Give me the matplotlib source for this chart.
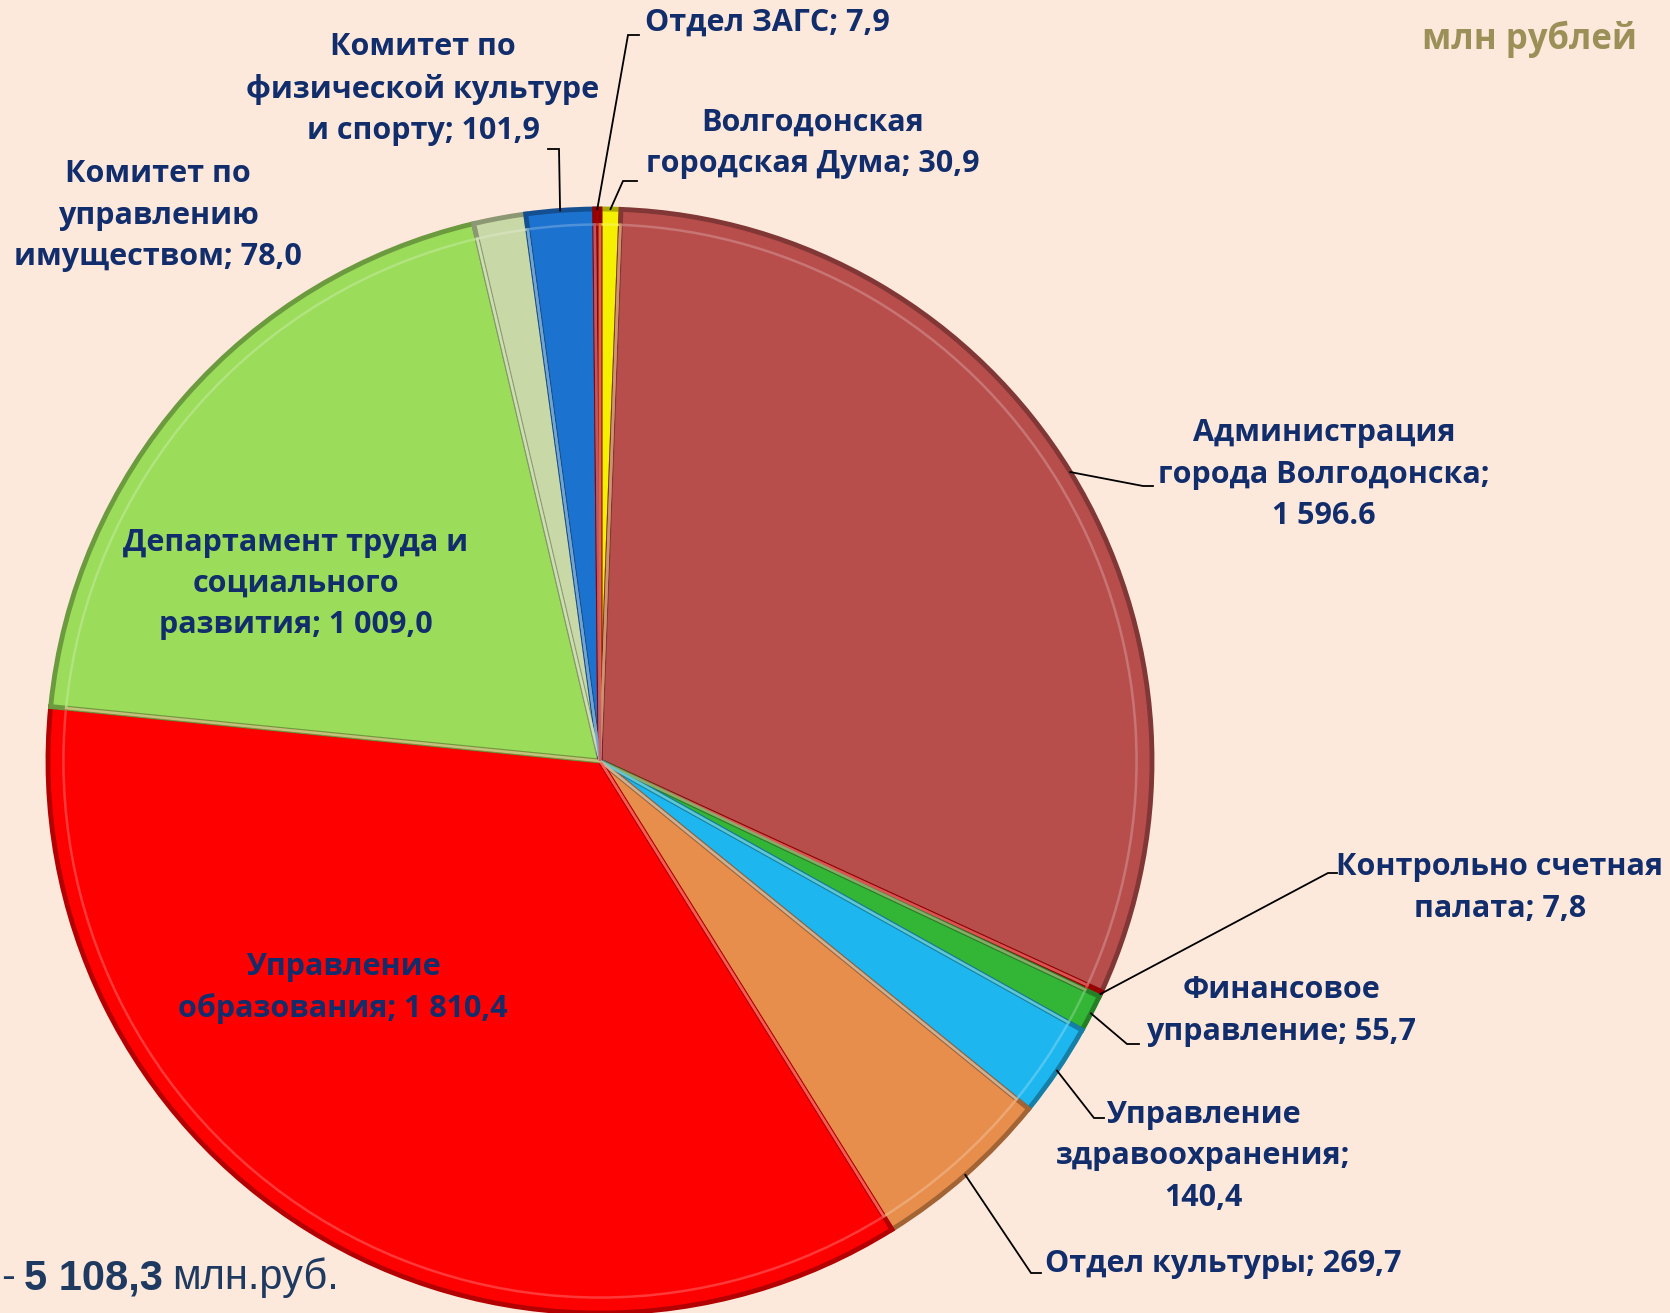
import numpy as np
import matplotlib.pyplot as plt
from matplotlib.colors import to_rgb

# clockwise from 12 o'clock
names = ["Волгодонская\nгородская Дума", "Администрация\nгорода Волгодонска;\n",
         "Контрольно счетная\nпалата", "Финансовое\nуправление",
         "Управление\nздравоохранения;\n", "Отдел культуры",
         "Управление\nобразования", "Департамент труда и\nсоциального\nразвития",
         "Комитет по\nуправлению\nимуществом", "Комитет по\nфизической культуре\nи спорту",
         "Отдел ЗАГС"]
values = [30.9, 1596.6, 7.8, 55.7, 140.4, 269.7, 1810.4, 1009.0, 78.0, 101.9, 7.9]
value_text = ["30,9", "1 596.6", "7,8", "55,7", "140,4", "269,7", "1 810,4", "1 009,0",
              "78,0", "101,9", "7,9"]
colors = ["#F5F000", "#B84E4C", "#D80000", "#33B536", "#1EB6EE", "#E88E4C",
          "#FF0000", "#9BDC5A", "#C8D8A6", "#1C72CF", "#D00000"]

W, H = 1670, 1313
BG = "#FDE9DB"
TXT = "#112D6C"
cx, cy, R = 600, H - 761, 552

# label layout (centre x, centre y from top, leader elbow x/y from top)
lab_xy = [(813, 143), (1324, 475), (1500, 888), (1281, 1011), (1203, 1156), (1223, 1264),
          (343, 988), (296, 584), (158, 216), (423, 89), (767, 23)]
elbows = [(623, 181, 637), (1143, 486, 1153), (1328, 873, 1337), (1127, 1044, 1139),
          (1094, 1118, 1104), (1031, 1273, 1041), None, None, None, (559, 149, 548),
          (628, 35, 639)]

plt.rcParams['font.family'] = ['Open Sans', 'DejaVu Sans']
fig = plt.figure(figsize=(W / 100, H / 100), dpi=100, facecolor=BG)
ax = fig.add_axes([0, 0, 1, 1])


def shade(c, f):
    r = np.array(to_rgb(c))
    return tuple(np.clip(r * f, 0, 1)) if f < 1 else tuple(r + (1 - r) * (f - 1))


wedges, _ = ax.pie(values, colors=colors, startangle=90, counterclock=False,
                   center=(cx, cy), radius=R, frame=True,
                   wedgeprops=dict(edgecolor='none', linewidth=0))
for w, c in zip(wedges, colors):
    w.set_edgecolor(shade(c, 0.7))
    w.set_linewidth(3.5)
# bevel highlight
inner, _ = ax.pie(values, colors=['none'] * len(values), startangle=90, counterclock=False,
                  center=(cx, cy), radius=R * 0.972, frame=True,
                  wedgeprops=dict(linewidth=1.8))
for w, c in zip(inner, colors):
    w.set_facecolor('none')
    w.set_edgecolor(shade(c, 1.3))
    w.set_alpha(0.75)
ax.set_xlim(0, W)
ax.set_ylim(0, H)
ax.set_aspect('equal')
ax.axis('off')

total = sum(values)
start = 90.0
for i, v in enumerate(values):
    sweep = v / total * 360
    mid = np.deg2rad(start - sweep / 2)
    start -= sweep
    nm = names[i]
    if nm.endswith("\n"):
        label = nm + value_text[i]
    else:
        label = nm + "; " + value_text[i]
    lx, ly = lab_xy[i]
    ax.text(lx, H - ly, label, ha='center', va='center', fontsize=22,
            fontweight='bold', color=TXT, linespacing=1.5)
    if elbows[i] is not None:
        ex, ey, tx = elbows[i]
        sx, sy = cx + R * np.cos(mid), cy + R * np.sin(mid)
        ax.plot([sx, ex, tx], [sy, H - ey, H - ey], color='black', lw=1.3,
                solid_joinstyle='miter')

ax.text(1530, H - 39, "млн рублей", ha='center', va='center', fontsize=25,
        fontweight='bold', color="#9A9058")

# total, bottom left
tot_y = H - 1278
fig.canvas.draw()
rend = fig.canvas.get_renderer()
x = 1
for s, wgt in [("-", 'normal'), ("5 108,3", 'bold'), ("млн.руб.", 'normal')]:
    t = ax.text(x, tot_y, s, ha='left', va='center', fontsize=30,
                family='Liberation Sans', fontweight=wgt, color="#1F3A60")
    bb = t.get_window_extent(rend)
    x += bb.width + 9

fig.savefig("out.png", dpi=100, facecolor=BG)
